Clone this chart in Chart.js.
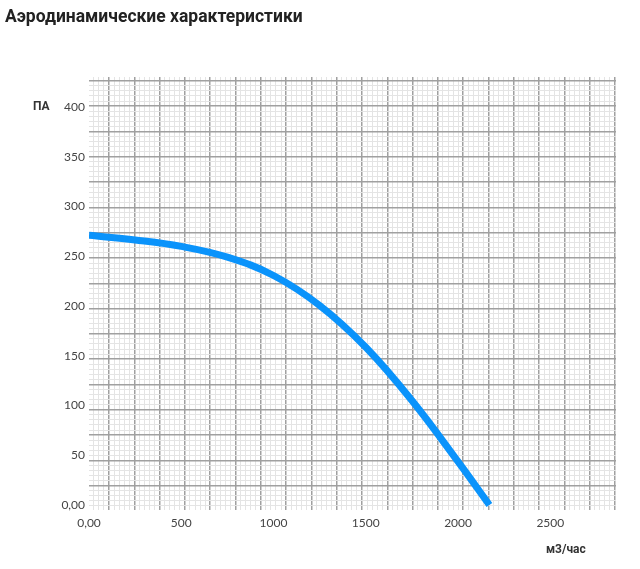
<!DOCTYPE html>
<html>
<head>
<meta charset="utf-8">
<script src="https://cdn.jsdelivr.net/npm/chart.js@4"></script>
<style>
  html, body { margin: 0; padding: 0; background: #fff; }
  #wrap { position: relative; width: 640px; height: 569px; }
  .txt { position: absolute; font-family: Roboto, "Noto Sans", sans-serif; color: #222; white-space: nowrap; }
  #title { left: 5px; top: 6px; font-size: 17.5px; font-weight: 700; }
  #ylab { left: 33px; top: 99px; font-size: 12px; font-weight: 700; color: #333; }
  #xlab { left: 546px; top: 542px; font-size: 12px; font-weight: 700; color: #333; }
</style>
</head>
<body>
<div id="wrap">
  <canvas id="chart" width="640" height="569"></canvas>
  <div class="txt" id="title">Аэродинамические характеристики</div>
  <div class="txt" id="ylab">ПА</div>
  <div class="txt" id="xlab">м3/час</div>
</div>
<script>
// --- данные кривой (расход м3/час -> давление Па) ---
const flow = [0, 250, 500, 750, 1000, 1250, 1500, 1750, 2000, 2170];
const pressure = [271, 266.3, 259.8, 249, 230.6, 200.5, 158.5, 105, 43.6, 0];

// --- подписи осей ---
const xTicks = [0, 500, 1000, 1500, 2000, 2500];
const yTicks = [0, 50, 100, 150, 200, 250, 300, 350, 400];

// миллиметровка: 5 мелких делений на крупную клетку
function gridTicks(from, to) {
  const t = [];
  for (let i = from; i <= to; i++) t.push({ value: i / 5 });
  return t;
}
const isMajor = v => Math.abs(v - Math.round(v)) < 1e-6;
const gridColor = ctx => isMajor(ctx.tick.value) ? '#a0a0a0' : '#e4e4e4';
const gridWidth = ctx => isMajor(ctx.tick.value) ? 1.5 : 1;

const fmt = v => v === 0 ? '0,00' : String(v);

new Chart(document.getElementById('chart'), {
  type: 'line',
  data: {
    datasets: [{
      data: flow.map((x, i) => ({ x, y: pressure[i] })),
      borderColor: '#0a93fb',
      borderWidth: 7,
      pointRadius: 0,
      tension: 0.4,
      fill: false
    }]
  },
  options: {
    responsive: false,
    animation: false,
    layout: { padding: { top: 77, right: 24, bottom: 0, left: 0 } },
    plugins: { legend: { display: false }, tooltip: { enabled: false } },
    scales: {
      x: {
        type: 'linear', position: 'bottom', min: 0, max: 2856,
        afterFit: s => { s.height = 59; },
        afterBuildTicks: s => { s.ticks = xTicks.map(v => ({ value: v })); },
        grid: { display: false, drawTicks: false },
        border: { display: false },
        ticks: { callback: fmt, padding: 6, color: '#444', maxRotation: 0, autoSkip: false,
                 font: { family: 'Lato', size: 12 } }
      },
      y: {
        type: 'linear', position: 'left', min: -5, max: 430,
        afterFit: s => { s.width = 89; },
        afterBuildTicks: s => { s.ticks = yTicks.map(v => ({ value: v })); },
        grid: { display: false, drawTicks: false },
        border: { display: false },
        ticks: { callback: fmt, padding: 4, color: '#444', autoSkip: false,
                 font: { family: 'Lato', size: 12 } }
      },
      // сетка миллиметровки, без подписей
      gx: {
        type: 'linear', position: 'top', min: -0.79, max: 20.04,
        afterFit: s => { s.height = 0; },
        afterBuildTicks: s => { s.ticks = gridTicks(-3, 100); },
        grid: { color: gridColor, lineWidth: gridWidth, drawTicks: false },
        border: { display: false },
        ticks: { display: false }
      },
      gy: {
        type: 'linear', position: 'right', min: -0.96, max: 16.15,
        afterFit: s => { s.width = 0; },
        afterBuildTicks: s => { s.ticks = gridTicks(-4, 80); },
        grid: { color: gridColor, lineWidth: gridWidth, drawTicks: false },
        border: { display: false },
        ticks: { display: false }
      }
    }
  }
});
</script>
</body>
</html>
